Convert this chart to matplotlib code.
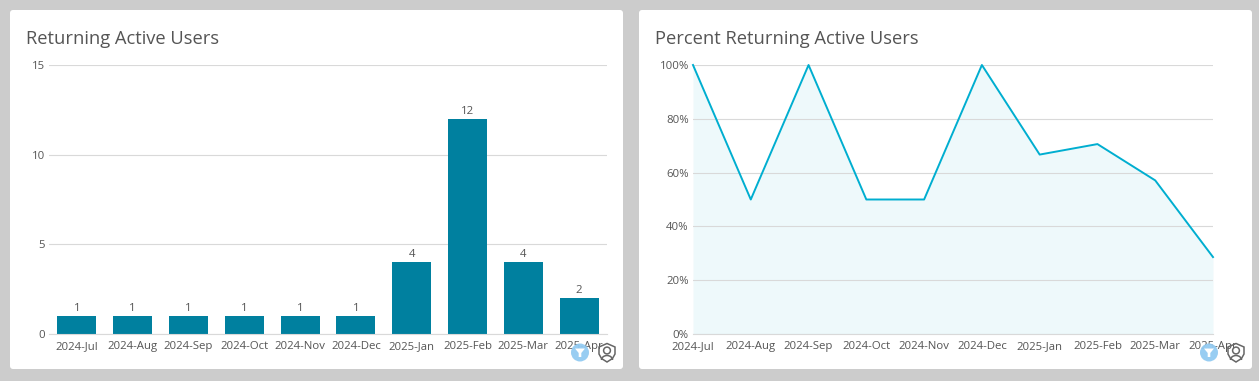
import matplotlib
matplotlib.use("Agg")
import matplotlib.pyplot as plt
from matplotlib.patches import FancyBboxPatch, Circle, Polygon, Arc

plt.rcParams['font.family'] = ['Open Sans', 'DejaVu Sans']

months = ['2024-Jul', '2024-Aug', '2024-Sep', '2024-Oct', '2024-Nov',
          '2024-Dec', '2025-Jan', '2025-Feb', '2025-Mar', '2025-Apr']
returning_users = [1, 1, 1, 1, 1, 1, 4, 12, 4, 2]
percent_returning = [100, 50, 100, 50, 50, 100, 66.7, 70.6, 57.1, 28.6]
left_title = 'Returning Active Users'
right_title = 'Percent Returning Active Users'
left_ticks = [0, 5, 10, 15]
right_ticks = [0, 20, 40, 60, 80, 100]

W, H = 1259, 381
BAR = '#00809f'
LINE = '#00aed0'
FILL = '#eef9fb'
GRID = '#d9d9d9'
TXT = '#555555'
TITLE = '#555555'

fig = plt.figure(figsize=(W / 100, H / 100), dpi=100, facecolor='#cccccc')


def axes_px(x0, y0, x1, y1, **kw):
    return fig.add_axes([x0 / W, 1 - y1 / H, (x1 - x0) / W, (y1 - y0) / H], **kw)


bg = axes_px(0, 0, W, H)
bg.set_xlim(0, W)
bg.set_ylim(H, 0)
bg.axis('off')
for x0, x1 in [(10, 623), (639, 1252)]:
    bg.add_patch(FancyBboxPatch((x0 + 3, 13), x1 - x0 - 6, 353,
                                boxstyle='round,pad=3,rounding_size=3',
                                fc='white', ec='none'))
bg.text(26, 39, left_title, fontsize=13.2, color=TITLE, va='center', ha='left')
bg.text(655, 39, right_title, fontsize=13.2, color=TITLE, va='center', ha='left')


def style(ax):
    ax.set_facecolor('none')
    for s in ('top', 'right', 'left'):
        ax.spines[s].set_visible(False)
    ax.spines['bottom'].set_color(GRID)
    ax.spines['bottom'].set_linewidth(0.8)
    ax.grid(axis='y', color=GRID, lw=0.8)
    ax.set_axisbelow(True)
    ax.tick_params(length=0, labelsize=8.2, labelcolor=TXT)
    ax.tick_params(axis='x', pad=10.7)
    ax.tick_params(axis='y', pad=3)


def set_months(ax, xs):
    ax.set_xticks(xs)
    ax.set_xticklabels(months, va='baseline')


# left: bars
ax1 = axes_px(49, 65, 607, 334)
style(ax1)
xs = list(range(len(months)))
bars = ax1.bar(xs, returning_users, width=0.7, color=BAR)
ax1.bar_label(bars, padding=1.5, fontsize=8.2, color=TXT)
ax1.set_xlim(-0.5, 9.5)
ax1.set_ylim(0, 15)
ax1.set_yticks(left_ticks)
set_months(ax1, xs)

# right: area line
ax2 = axes_px(693, 65, 1213, 334)
style(ax2)
ax2.fill_between(xs, percent_returning, 0, color=FILL, lw=0, zorder=0.4)
ax2.plot(xs, percent_returning, color=LINE, lw=1.4, zorder=3, clip_on=False)
ax2.set_xlim(0, 9)
ax2.set_ylim(0, 100)
ax2.set_yticks(right_ticks)
ax2.set_yticklabels([f'{v}%' for v in right_ticks])
set_months(ax2, xs)

# overlay icons
ov = axes_px(0, 0, W, H)
ov.set_xlim(0, W)
ov.set_ylim(H, 0)
ov.axis('off')
ov.set_zorder(5)
for cx in (580, 1209):
    ov.add_patch(Circle((cx, 352.5), 9, fc='#93cbf2', ec='none', alpha=0.95))
    ov.add_patch(Polygon([(cx - 5, 348.5), (cx + 5, 348.5), (cx + 1.3, 353),
                          (cx + 1.3, 357), (cx - 1.3, 357), (cx - 1.3, 353)],
                         closed=True, fc='white', ec='none'))
    sx = cx + 27
    ov.add_patch(Polygon([(sx - 8, 347), (sx, 343.5), (sx + 8, 347), (sx + 8, 354),
                          (sx + 5.5, 358.5), (sx, 362), (sx - 5.5, 358.5), (sx - 8, 354)],
                         closed=True, fc='none', ec='#666666', lw=1.1))
    ov.add_patch(Circle((sx, 350.5), 3.4, fc='none', ec='#666666', lw=1.1))
    ov.add_patch(Arc((sx, 360), 11, 9, theta1=180, theta2=360, ec='#666666', lw=1.1))

fig.savefig('out.png', dpi=100, facecolor=fig.get_facecolor())
